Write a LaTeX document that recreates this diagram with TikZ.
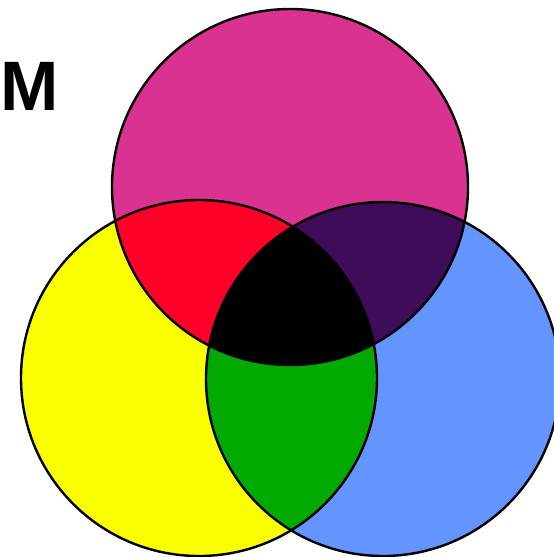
\documentclass[tikz,border=0pt]{standalone}
\usepackage{fontspec}
\setmainfont{Liberation Sans}
\definecolor{cmag}{RGB}{217,50,145}
\definecolor{cyel}{RGB}{250,255,0}
\definecolor{cblu}{RGB}{100,148,255}
\definecolor{cred}{RGB}{255,0,40}
\definecolor{cpur}{RGB}{62,12,88}
\definecolor{cgrn}{RGB}{0,170,0}
\begin{document}
\begin{tikzpicture}[x=1pt,y=-1pt,
  outline/.style={draw=black,line width=2.4pt}]
\useasboundingbox (0,0) rectangle (554,557);
\clip (0,0) rectangle (554,557);
\def\magc{(290,187) circle[radius=178]}
\def\yelc{(199,378) circle[radius=178]}
\def\bluc{(383,379) circle[radius=177]}
% base fills
\fill[cmag] \magc;
\fill[cyel] \yelc;
\fill[cblu] \bluc;
% pairwise overlaps
\begin{scope}\clip \magc; \fill[cred] \yelc; \end{scope}
\begin{scope}\clip \magc; \fill[cpur] \bluc; \end{scope}
\begin{scope}\clip \yelc; \fill[cgrn] \bluc; \end{scope}
\begin{scope}\clip \magc; \clip \yelc; \fill[black] \bluc; \end{scope}
% outlines
\draw[outline] \magc;
\draw[outline] \yelc;
\draw[outline] \bluc;
\node[anchor=base west,inner sep=0pt,font=\fontsize{70}{70}\selectfont\bfseries] (m) at (0,110) {M};
\end{tikzpicture}
\end{document}
